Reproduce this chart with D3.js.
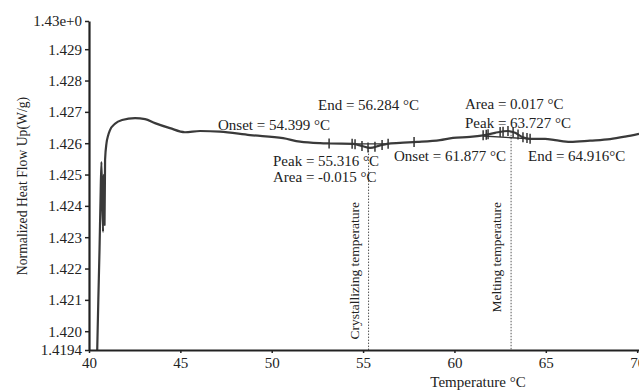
<!DOCTYPE html>
<html>
<head>
<meta charset="utf-8">
<script src="https://cdn.jsdelivr.net/npm/d3@7"></script>
<style>
  body { margin: 0; background: #fff; }
  svg text { font-family: "Liberation Serif", "Times New Roman", serif; fill: #222; }
</style>
</head>
<body>
<div class="chart"></div>
<script>
// DSC trace
const temps = [40.45, 40.51, 40.575, 40.63, 40.68, 40.77, 40.79, 40.85, 40.88, 40.96, 41.04, 41.15, 41.42,
               41.81, 42.52, 43.07, 43.61, 44.43, 45.25, 46.08, 47.17, 48.81, 50.62, 51.55, 52.64, 53.19,
               54.45, 54.94, 55.38, 55.93, 56.31, 57.02, 57.95, 59.21, 59.92, 60.85, 61.57, 62.22, 62.93,
               63.32, 63.70, 64.14, 64.96, 65.51, 66.33, 67.42, 68.52, 69.34, 70.1];
const flow = [1.41940, 1.42100, 1.42259, 1.42419, 1.42540, 1.42317, 1.42499, 1.42339, 1.42547, 1.42601,
              1.42623, 1.42642, 1.42662, 1.42674, 1.42680, 1.42677, 1.42664, 1.42648, 1.42635, 1.42639,
              1.42637, 1.42626, 1.42616, 1.42605, 1.42600, 1.42599, 1.42598, 1.42591, 1.42585, 1.42593,
              1.42598, 1.42601, 1.42604, 1.42610, 1.42617, 1.42620, 1.42625, 1.42633, 1.42639, 1.42633,
              1.42620, 1.42614, 1.42614, 1.42610, 1.42604, 1.42608, 1.42613, 1.42621, 1.42630];

// cursor marks along the trace
const crystMarks = [53.14, 54.40, 54.56, 54.94, 55.27, 55.65, 56.04, 56.37, 57.79];
const meltMarks = [61.57, 61.74, 61.84, 62.50, 62.66, 62.93, 63.21, 63.48, 63.75, 63.97, 64.14];

// integration baselines
const crystBaseT = [54.40, 56.37];
const crystBaseV = [1.42598, 1.42598];
const meltBaseT = [61.57, 64.14];
const meltBaseV = [1.42623, 1.42614];

// vertical reference lines
const refTemps = [55.3, 63.1];
const refNames = ["Crystallizing temperature", "Melting temperature"];

const xTicks = [40, 45, 50, 55, 60, 65, 70];
const yTicks = [1.4194, 1.420, 1.421, 1.422, 1.423, 1.424, 1.425, 1.426, 1.427, 1.428, 1.429, 1.4299];
const yTickLabels = ["1.4194", "1.420", "1.421", "1.422", "1.423", "1.424", "1.425", "1.426",
                     "1.427", "1.428", "1.429", "1.43e+0"];

const notes = ["Onset = 54.399 °C", "End = 56.284 °C", "Peak = 55.316 °C", "Area = -0.015 °C",
               "Area = 0.017 °C", "Peak = 63.727 °C", "Onset = 61.877 °C", "End = 64.916°C"];

const width = 639, height = 391;

var svg = d3.select(".chart").append("svg")
    .attr("width", width)
    .attr("height", height);

var x = d3.scaleLinear().domain([40, 70.1]).range([89, 639]);
var y = d3.scaleLinear().domain([1.4194, 1.4299]).range([350, 21]);

var bis = d3.bisector(function(d) { return d; }).left;
function flowAt(t) {
    var i = Math.max(1, Math.min(temps.length - 1, bis(temps, t)));
    var a = (t - temps[i - 1]) / (temps[i] - temps[i - 1]);
    return flow[i - 1] + a * (flow[i] - flow[i - 1]);
}

// reference lines
refTemps.forEach(function(t, i) {
    svg.append("line")
        .attr("x1", x(t)).attr("x2", x(t))
        .attr("y1", y(flowAt(t))).attr("y2", y(1.4194))
        .attr("stroke", "#555")
        .attr("stroke-width", 1)
        .attr("stroke-dasharray", "1.5,1.5");
    svg.append("text")
        .attr("transform", "translate(" + (x(t) - 10) + ",202) rotate(-90)")
        .attr("text-anchor", "end")
        .attr("font-size", 13.5)
        .text(refNames[i]);
});

// baselines
[[crystBaseT, crystBaseV], [meltBaseT, meltBaseV]].forEach(function(b) {
    svg.append("line")
        .attr("x1", x(b[0][0])).attr("x2", x(b[0][1]))
        .attr("y1", y(b[1][0])).attr("y2", y(b[1][1]))
        .attr("stroke", "#333")
        .attr("stroke-width", 1.3);
});

// trace
var line = d3.line()
    .x(function(d, i) { return x(temps[i]); })
    .y(function(d) { return y(d); })
    .curve(d3.curveMonotoneX);

svg.append("path")
    .datum(flow)
    .attr("d", line)
    .attr("fill", "none")
    .attr("stroke", "#3a3a3a")
    .attr("stroke-width", 2.2)
    .attr("stroke-linejoin", "round");

// cursor marks
svg.selectAll(".mark")
    .data(crystMarks.concat(meltMarks))
    .enter().append("line")
    .attr("class", "mark")
    .attr("x1", function(d) { return x(d); })
    .attr("x2", function(d) { return x(d); })
    .attr("y1", function(d) { return y(flowAt(d)) - 5; })
    .attr("y2", function(d) { return y(flowAt(d)) + 5; })
    .attr("stroke", "#333")
    .attr("stroke-width", 1.5);

// annotations
var notePos = [[218, 130], [318, 110], [273, 166], [273, 182],
               [465, 109], [465, 128], [394, 161], [528, 161]];
svg.selectAll(".note")
    .data(notes)
    .enter().append("text")
    .attr("class", "note")
    .attr("x", function(d, i) { return notePos[i][0]; })
    .attr("y", function(d, i) { return notePos[i][1]; })
    .attr("font-size", 15)
    .text(function(d) { return d; });

// axes
var xAxis = svg.append("g")
    .attr("transform", "translate(0," + y(1.4194) + ")")
    .call(d3.axisBottom(x).tickValues(xTicks).tickSize(3).tickPadding(4).tickSizeOuter(0));
var yAxis = svg.append("g")
    .attr("transform", "translate(" + x(40) + ",0)")
    .call(d3.axisLeft(y).tickValues(yTicks).tickSize(4).tickPadding(3).tickSizeOuter(0)
        .tickFormat(function(d, i) { return yTickLabels[i]; }));

[xAxis, yAxis].forEach(function(g) {
    g.select(".domain").attr("stroke", "#222").attr("stroke-width", 2.2);
    g.selectAll(".tick line").attr("stroke", "#222").attr("stroke-width", 1.5);
    g.selectAll(".tick text")
        .attr("font-size", 15)
        .attr("font-family", "Liberation Serif, serif")
        .attr("fill", "#222");
});

svg.append("text")
    .attr("x", 478)
    .attr("y", 387)
    .attr("text-anchor", "middle")
    .attr("font-size", 15)
    .text("Temperature °C");

svg.append("text")
    .attr("transform", "translate(27,186) rotate(-90)")
    .attr("text-anchor", "middle")
    .attr("font-size", 13.7)
    .text("Normalized Heat Flow Up(W/g)");
</script>
</body>
</html>
